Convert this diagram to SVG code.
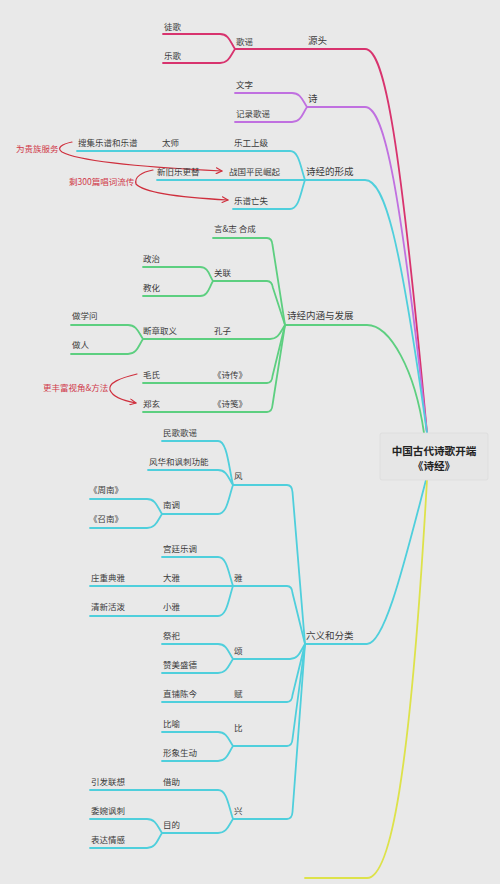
<svg xmlns="http://www.w3.org/2000/svg" width="500" height="884" viewBox="0 0 500 884">
<defs>
<style>
text{font-family:"Noto Sans CJK SC","Noto Sans",sans-serif;font-size:8.5px;fill:#3b3b3b}
.m{font-size:9.5px}
.r{fill:#d0394a}
.root{font-size:10.6px;font-weight:bold;fill:#222;text-anchor:middle}
path{fill:none;stroke-linecap:round;stroke-linejoin:round}
.pk{stroke:#d8336e;stroke-width:1.8}
.pu{stroke:#c070e0;stroke-width:1.8}
.cy{stroke:#4fcfdc;stroke-width:1.8}
.gr{stroke:#5dcf80;stroke-width:1.8}
.ye{stroke:#dde24a;stroke-width:1.8}
.ar{stroke:#cf2f3d;stroke-width:1.2;marker-end:url(#arr)}
</style>
<marker id="arr" viewBox="0 0 10 10" refX="9" refY="5" markerWidth="6" markerHeight="6" orient="auto">
<path d="M1,1 L9,5 L1,9" fill="none" stroke="#cf2f3d" stroke-width="1.6"/>
</marker>
</defs>
<rect width="500" height="884" fill="#e9e9e9"/>
<g id="connectors">
<path class="pk" d="M235,49 H365 C385,49 400,140 427,433"/>
<path class="pk" d="M163,34 H220 C229,34 230.5,42.25 235,49"/>
<path class="pk" d="M163,63 H220 C229,63 230.5,55.3 235,49"/>
<path class="pu" d="M307,107 H365 C385,107 400,190 427,433"/>
<path class="pu" d="M235,93 H292 C301,93 302.5,100.7 307,107"/>
<path class="pu" d="M235,122 H292 C301,122 302.5,113.75 307,107"/>
<path class="cy" d="M157,180 H365 C385,180 400,240 427,433"/>
<path class="cy" d="M77,151 H290 C299,151 300.5,167 305,180"/>
<path class="cy" d="M233,209 H290 C299,209 300.5,193 305,180"/>
<path class="gr" d="M285,325 H367 C390,325 415,370 424,433"/>
<path class="gr" d="M213,238 H267 Q272,238 272.5,245 L285,325"/>
<path class="gr" d="M213,281 H267 Q272,281 273,288 L285,325"/>
<path class="gr" d="M143,267 H200 C208,267 209,274.7 213,281"/>
<path class="gr" d="M143,296 H200 C208,296 209,287.75 213,281"/>
<path class="gr" d="M143,339 H270 C279,339 280.5,331.3 285,325"/>
<path class="gr" d="M71,325 H128 C137,325 138.5,332.7 143,339"/>
<path class="gr" d="M71,354 H128 C137,354 138.5,345.75 143,339"/>
<path class="gr" d="M143,383 H267 Q272,383 272.5,376 L285,325"/>
<path class="gr" d="M143,412 H267 Q272,412 272.5,405 L285,325"/>
<path class="cy" d="M305,644 H367 C385,644 405,560 426,480"/>
<path class="cy" d="M233,485 H287 Q292,485 292.5,492 L305,644"/>
<path class="cy" d="M162,441 H218 C227,441 228.5,465.2 233,485"/>
<path class="cy" d="M148,470 H218 C227,470 228.5,478.25 233,485"/>
<path class="cy" d="M162,514 H218 C227,514 228.5,498.05 233,485"/>
<path class="cy" d="M90,499 H147 C156,499 157.5,507.25 162,514"/>
<path class="cy" d="M90,528 H147 C156,528 157.5,520.3 162,514"/>
<path class="cy" d="M90,586 H287 Q292,586 292.5,593 L305,644"/>
<path class="cy" d="M162,557 H218 C227,557 228.5,572.95 233,586"/>
<path class="cy" d="M90,616 H218 C227,616 228.5,599.5 233,586"/>
<path class="cy" d="M233,659 H290 C299,659 300.5,650.75 305,644"/>
<path class="cy" d="M162,644 H218 C227,644 228.5,652.25 233,659"/>
<path class="cy" d="M162,673 H218 C227,673 228.5,665.3 233,659"/>
<path class="cy" d="M162,702 H287 Q292,702 292.5,695 L305,644"/>
<path class="cy" d="M233,746 H287 Q292,746 292.5,739 L305,644"/>
<path class="cy" d="M162,732 H218 C227,732 228.5,739.7 233,746"/>
<path class="cy" d="M162,761 H218 C227,761 228.5,752.75 233,746"/>
<path class="cy" d="M233,819 H287 Q292,819 292.5,812 L305,644"/>
<path class="cy" d="M90,790 H218 C227,790 228.5,805.95 233,819"/>
<path class="cy" d="M162,833 H218 C227,833 228.5,825.3 233,819"/>
<path class="cy" d="M90,819 H147 C156,819 157.5,826.7 162,833"/>
<path class="cy" d="M90,848 H147 C156,848 157.5,839.75 162,833"/>
<path class="ye" d="M305,878 H367 C390,878 410,780 427,480"/>
<path class="ar" d="M72,142 C62,144 56,148 62,152 C80,162 160,168 222,171"/>
<path class="ar" d="M153,170 C142,172 134,177 136,184 C145,194 190,198 228,200"/>
<path class="ar" d="M137,374 C120,378 108,383 110,390 C113,398 125,401 136,403"/>
</g>
<g id="root">
<rect x="380" y="433" width="108" height="47" rx="2" fill="#e6e6e6" stroke="#dcdcdc" stroke-width="0.8"/>
<text class="root" x="434" y="455">中国古代诗歌开端</text>
<text class="root" x="434" y="470">《诗经》</text>
</g>
<g id="n-yuantou"><text class="m" x="308" y="44">源头</text></g>
<g id="n-geyao"><text x="236" y="45">歌谣</text></g>
<g id="n-tuge"><text x="164" y="30">徒歌</text></g>
<g id="n-yuege"><text x="164" y="59">乐歌</text></g>
<g id="n-shi"><text class="m" x="308" y="102">诗</text></g>
<g id="n-wenzi"><text x="236" y="88">文字</text></g>
<g id="n-jilu"><text x="236" y="117">记录歌谣</text></g>
<g id="n-xingcheng"><text class="m" x="306" y="175">诗经的形成</text></g>
<g id="n-yuegong"><text x="234" y="146">乐工上级</text></g>
<g id="n-taishi"><text x="162" y="146">太师</text></g>
<g id="n-souji"><text x="78" y="146">搜集乐谱和乐谱</text></g>
<g id="n-zhanguo"><text x="229" y="175">战国平民崛起</text></g>
<g id="n-xinjiu"><text x="157" y="175">新旧乐更替</text></g>
<g id="n-yuepu"><text x="234" y="204">乐谱亡失</text></g>
<g id="n-guizu"><text class="r" x="16" y="152">为贵族服务</text></g>
<g id="n-sheng300"><text class="r" x="69" y="185">剩300篇唱词流传</text></g>
<g id="n-neihan"><text class="m" x="287" y="319">诗经内涵与发展</text></g>
<g id="n-yanzhi"><text x="214" y="232">言&amp;志 合成</text></g>
<g id="n-guanlian"><text x="214" y="276">关联</text></g>
<g id="n-zhengzhi"><text x="143" y="262">政治</text></g>
<g id="n-jiaohua"><text x="143" y="291">教化</text></g>
<g id="n-kongzi"><text x="214" y="334">孔子</text></g>
<g id="n-duanzhang"><text x="143" y="334">断章取义</text></g>
<g id="n-zuoxuewen"><text x="72" y="319">做学问</text></g>
<g id="n-zuoren"><text x="72" y="348">做人</text></g>
<g id="n-shizhuan"><text x="213" y="378">《诗传》</text></g>
<g id="n-maoshi"><text x="143" y="378">毛氏</text></g>
<g id="n-shijian"><text x="213" y="407">《诗笺》</text></g>
<g id="n-zhengxuan"><text x="143" y="407">郑玄</text></g>
<g id="n-fengfu"><text class="r" x="43" y="391">更丰富视角&amp;方法</text></g>
<g id="n-liuyi"><text class="m" x="306" y="639">六义和分类</text></g>
<g id="n-feng"><text x="234" y="479">风</text></g>
<g id="n-minge"><text x="163" y="436">民歌歌谣</text></g>
<g id="n-fenghua"><text x="149" y="465">风华和讽刺功能</text></g>
<g id="n-nandiao"><text x="163" y="508">南调</text></g>
<g id="n-zhounan"><text x="89" y="493">《周南》</text></g>
<g id="n-shaonan"><text x="89" y="522">《召南》</text></g>
<g id="n-ya"><text x="234" y="581">雅</text></g>
<g id="n-gongting"><text x="163" y="552">宫廷乐调</text></g>
<g id="n-daya"><text x="163" y="581">大雅</text></g>
<g id="n-zhuangzhong"><text x="91" y="581">庄重典雅</text></g>
<g id="n-xiaoya"><text x="163" y="610">小雅</text></g>
<g id="n-qingxin"><text x="91" y="610">清新活泼</text></g>
<g id="n-song"><text x="234" y="654">颂</text></g>
<g id="n-jisi"><text x="163" y="639">祭祀</text></g>
<g id="n-zanmei"><text x="163" y="668">赞美盛德</text></g>
<g id="n-fu"><text x="234" y="697">赋</text></g>
<g id="n-zhipu"><text x="163" y="697">直铺陈今</text></g>
<g id="n-bi"><text x="234" y="731">比</text></g>
<g id="n-biyu"><text x="163" y="727">比喻</text></g>
<g id="n-xingxiang"><text x="163" y="756">形象生动</text></g>
<g id="n-xing"><text x="234" y="814">兴</text></g>
<g id="n-jiezhu"><text x="163" y="785">借助</text></g>
<g id="n-yinfa"><text x="91" y="785">引发联想</text></g>
<g id="n-mudi"><text x="163" y="828">目的</text></g>
<g id="n-weiwan"><text x="91" y="814">委婉讽刺</text></g>
<g id="n-biaoda"><text x="91" y="843">表达情感</text></g>
</svg>
